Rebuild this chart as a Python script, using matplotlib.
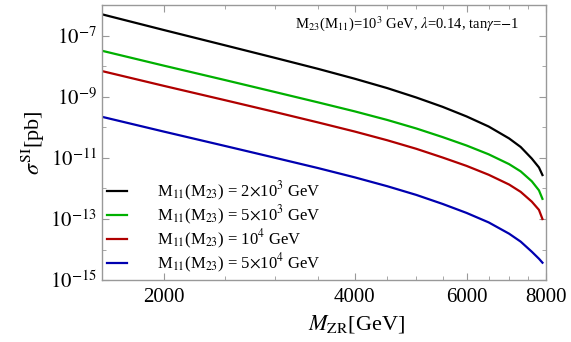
import numpy as np
import matplotlib
matplotlib.use("Agg")
from matplotlib import pyplot as plt
from matplotlib.ticker import FixedLocator, NullFormatter, FuncFormatter

plt.rcParams['font.family'] = ['Liberation Serif', 'DejaVu Serif']
plt.rcParams['mathtext.fontset'] = 'stix'

# M_ZR [GeV]
m_zr = [1600, 2000, 2500, 3000, 3500, 4000, 4500, 5000, 5500, 6000, 6500, 7000, 7300, 7600, 7800, 7900]

# log10(sigma_SI / pb)
log_sigma_2e3 = [-6.295, -6.807, -7.311, -7.725, -8.08, -8.405, -8.712, -9.02, -9.325, -9.64,
                 -9.97, -10.36, -10.64, -11.02, -11.31, -11.56]
log_sigma_5e3 = [-7.489, -7.974, -8.449, -8.843, -9.178, -9.474, -9.755, -10.034, -10.316, -10.592,
                 -10.88, -11.202, -11.439, -11.763, -12.06, -12.34]
log_sigma_1e4 = [-8.154, -8.636, -9.108, -9.498, -9.835, -10.135, -10.42, -10.70, -10.985, -11.26,
                 -11.55, -11.87, -12.11, -12.43, -12.70, -13.0]
log_sigma_5e4 = [-9.652, -10.134, -10.607, -10.997, -11.33, -11.635, -11.925, -12.21, -12.505, -12.80,
                 -13.11, -13.48, -13.74, -14.07, -14.30, -14.43]

labels = [r'M$_{11}$(M$_{23}$) = 2$\times$10$^{3}$ GeV',
          r'M$_{11}$(M$_{23}$) = 5$\times$10$^{3}$ GeV',
          r'M$_{11}$(M$_{23}$) = 10$^{4}$ GeV',
          r'M$_{11}$(M$_{23}$) = 5$\times$10$^{4}$ GeV']
colors = ['black', '#00b000', '#b00000', '#0000b0']

fig = plt.figure(figsize=(5.71, 3.42), dpi=100)
ax = fig.add_axes([0.1786, 0.181, 0.7775, 0.8035])

for s, lab, c in zip([log_sigma_2e3, log_sigma_5e3, log_sigma_1e4, log_sigma_5e4], labels, colors):
    ax.plot(m_zr, 10.0 ** np.array(s), color=c, lw=1.6, label=lab)

ax.set_xscale('log')
ax.set_yscale('log')
ax.set_xlim(1600, 8000)
ax.set_ylim(1e-15, 1e-6)

ax.xaxis.set_major_locator(FixedLocator([2000, 4000, 6000, 8000]))
ax.xaxis.set_minor_locator(FixedLocator([2500, 3000, 3500, 4500, 5000, 5500, 6500, 7000, 7500]))
ax.xaxis.set_major_formatter(FuncFormatter(lambda v, p: '%d' % v))
ax.xaxis.set_minor_formatter(NullFormatter())

ax.yaxis.set_major_locator(FixedLocator([10.0**e for e in range(-15, -6, 2)]))
ax.yaxis.set_minor_locator(FixedLocator([10.0**e for e in range(-14, -5, 2)]))
ax.yaxis.set_major_formatter(FuncFormatter(lambda v, p: r'$10^{%d}$' % round(np.log10(v))))
ax.yaxis.set_minor_formatter(NullFormatter())

for sp in ax.spines.values():
    sp.set_color('#999999')
    sp.set_linewidth(1.0)
ax.tick_params(which='both', direction='in', top=True, right=True, color='#999999', labelsize=15)
ax.tick_params(which='major', length=5)
ax.tick_params(which='minor', length=3)
ax.tick_params(axis='x', pad=6)

ax.set_xlabel(r'$M_{\mathrm{ZR}}$[GeV]', fontsize=16)
ax.xaxis.set_label_coords(0.574, -0.12)
ax.set_ylabel(r'$\sigma^{\mathrm{SI}}$[pb]', fontsize=16, labelpad=2)

ax.text(0.434, 0.935, r'M$_{23}$(M$_{11}$)=10$^{3}$ GeV, $\lambda$=0.14, tan$\gamma$=$-$1',
        transform=ax.transAxes, fontsize=10.5, ha='left', va='center')

ax.legend(loc='lower left', bbox_to_anchor=(0.0, 0.0), frameon=False, fontsize=12,
          handlelength=1.2, handletextpad=1.8, labelspacing=0.05, borderaxespad=0.0,
          borderpad=0.3)

plt.savefig('out.png', dpi=100)
